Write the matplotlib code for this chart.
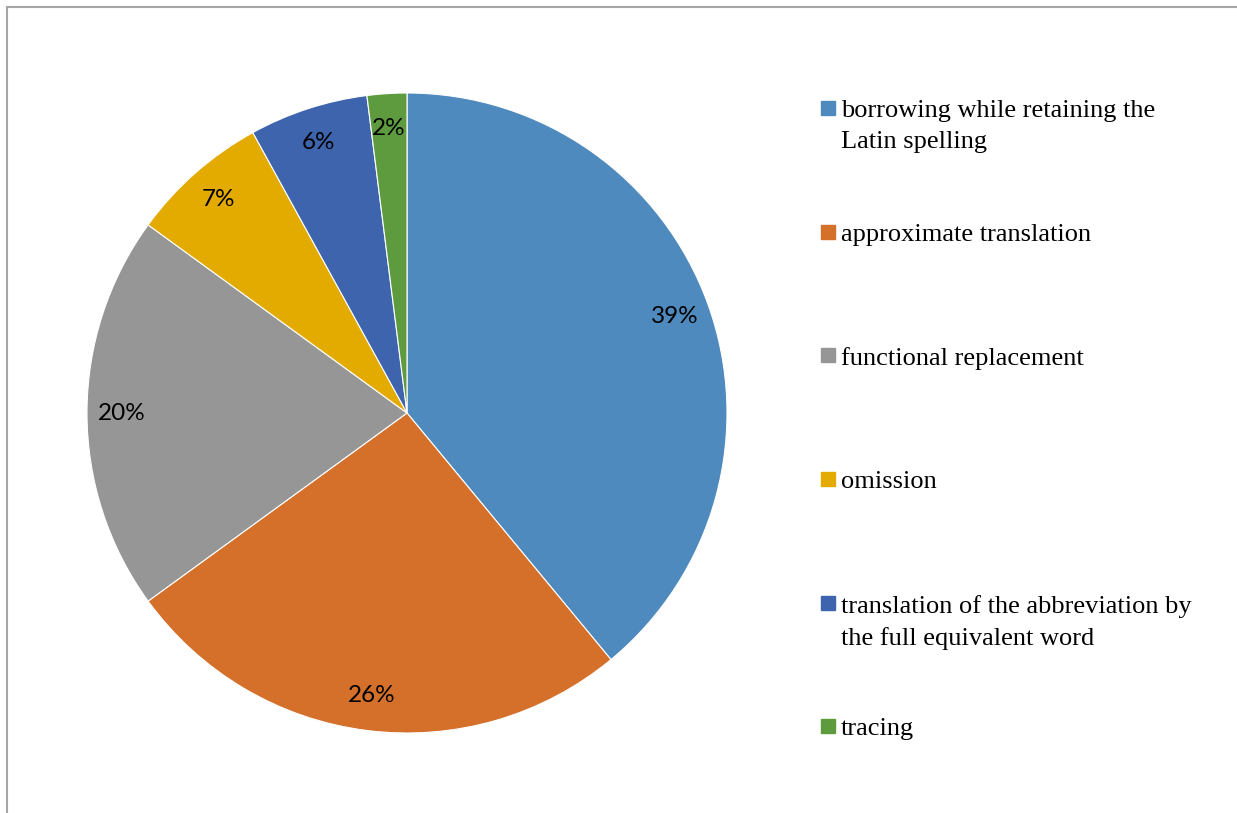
import matplotlib.pyplot as plt
from matplotlib.patches import Rectangle
from matplotlib.lines import Line2D

labels = ["borrowing while retaining the\nLatin spelling",
          "approximate translation",
          "functional replacement",
          "omission",
          "translation of the abbreviation by\nthe full equivalent word",
          "tracing"]
values = [39, 26, 20, 7, 6, 2]
colors = ["#4F8ABE", "#D5702B", "#969696", "#E3AA00", "#3D64AD", "#5E9B3E"]

W, H = 1237, 813
fig = plt.figure(figsize=(W / 100, H / 100), dpi=100)

# frame lines (top and left visible)
fig.add_artist(Line2D([7.5 / W, 1.0], [1 - 7.5 / H, 1 - 7.5 / H], color="#A6A6A6", lw=1.5))
fig.add_artist(Line2D([7.5 / W, 7.5 / W], [0, 1 - 7.5 / H], color="#A6A6A6", lw=1.5))

cx, cy, r = 407, H - 413, 320
ax = fig.add_axes([(cx - r) / W, (cy - r) / H, 2 * r / W, 2 * r / H])
ax.pie(values, colors=colors, startangle=90, counterclock=False,
       autopct="%d%%", pctdistance=0.89,
       wedgeprops=dict(edgecolor="white", linewidth=0.8),
       textprops=dict(family="Lato", fontsize=17.5, color="black"))
ax.set_xlim(-1, 1)
ax.set_ylim(-1, 1)
ax.set_aspect("equal")

# legend
ys = [108, 232, 355, 479, 603, 726]
for lab, col, y in zip(labels, colors, ys):
    fig.add_artist(Rectangle((821 / W, 1 - (y + 7) / H), 14 / W, 14 / H,
                             color=col, transform=fig.transFigure))
    fig.text(841 / W, 1 - (y - 8) / H, lab, family="Liberation Serif",
             fontsize=19, va="top", ha="left", linespacing=1.52)

fig.savefig("out.png", dpi=100)
